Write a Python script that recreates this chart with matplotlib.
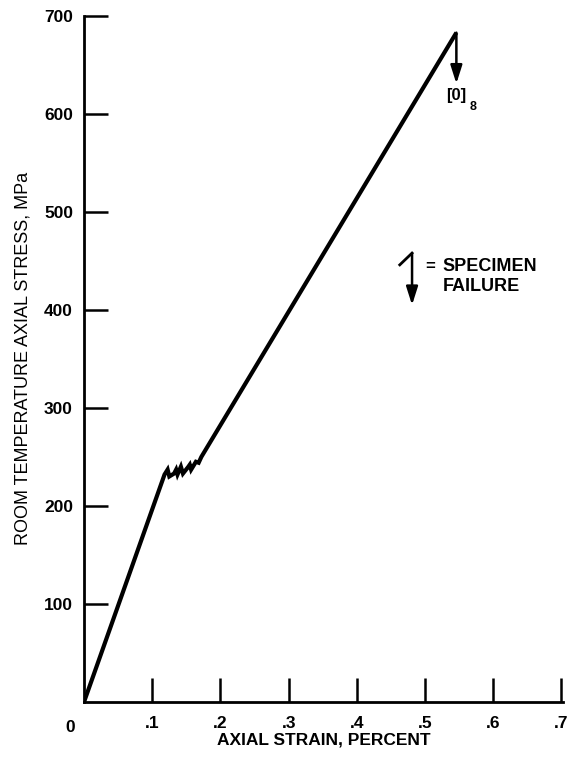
import matplotlib
matplotlib.use("Agg")
import matplotlib.pyplot as plt

plt.rcParams["font.family"] = ["Liberation Sans", "DejaVu Sans"]

# stress-strain curve, [0]8 laminate
strain = [0.0, 0.118, 0.1225, 0.125, 0.132, 0.135, 0.137, 0.142, 0.145,
          0.153, 0.155, 0.157, 0.164, 0.168, 0.172, 0.546]
stress = [0, 232, 237, 230, 233, 237, 232, 240, 233,
          240, 242, 237, 245, 244, 250, 683]

fail_strain = 0.546
fail_stress = 683
layup_label = "[0]"
layup_sub = "8"

x_ticks = [0.1, 0.2, 0.3, 0.4, 0.5, 0.6, 0.7]
x_ticklabels = [".1", ".2", ".3", ".4", ".5", ".6", ".7"]
y_ticks = [100, 200, 300, 400, 500, 600, 700]

fig = plt.figure(figsize=(5.72, 7.62), dpi=100)
ax = fig.add_axes([0.147, 0.079, 0.838, 0.9])

ax.plot(strain, stress, color="black", lw=3.0, solid_joinstyle="miter",
        solid_capstyle="butt")

arrow_kw = dict(arrowstyle="-|>,head_length=1.1,head_width=0.35",
                color="black", lw=1.8, shrinkA=0, shrinkB=0)

# failure arrow
ax.annotate("", xy=(fail_strain, fail_stress - 52), xytext=(fail_strain, fail_stress),
            arrowprops=arrow_kw)
ax.text(fail_strain - 0.0, 619, layup_label, ha="center", va="center",
        fontsize=12, fontweight="bold")
ax.text(fail_strain + 0.024, 607, layup_sub, ha="center", va="center",
        fontsize=9, fontweight="bold")

# legend key: arrow = specimen failure
ax.plot([0.463, 0.481], [446, 458], color="black", lw=2.0)
ax.annotate("", xy=(0.481, 405), xytext=(0.481, 458),
            arrowprops=arrow_kw)
ax.text(0.507, 444, "=", ha="center", va="center",
        fontsize=12, fontweight="bold")
ax.text(0.526, 444, "SPECIMEN", ha="left", va="center",
        fontsize=13, fontweight="bold")
ax.text(0.526, 424, "FAILURE", ha="left", va="center",
        fontsize=13, fontweight="bold")

ax.set_xlim(0, 0.703)
ax.set_ylim(0, 700)
ax.spines["top"].set_visible(False)
ax.spines["right"].set_visible(False)
for s in ("left", "bottom"):
    ax.spines[s].set_linewidth(2.0)

ax.set_xticks(x_ticks)
ax.set_xticklabels(x_ticklabels)
ax.set_yticks(y_ticks)
ax.tick_params(direction="in", length=17, width=1.8, labelsize=12.5)
ax.tick_params(axis="y", pad=8)
ax.tick_params(axis="x", pad=10)
for lab in ax.get_xticklabels() + ax.get_yticklabels():
    lab.set_fontweight("bold")
ax.text(-0.02, -26, "0", ha="center", va="center", fontsize=12.5,
        fontweight="bold")

ax.set_xlabel("AXIAL STRAIN, PERCENT", fontsize=12.5, fontweight="bold", labelpad=1)
ax.set_ylabel("ROOM TEMPERATURE AXIAL STRESS, MPa", fontsize=13, labelpad=9)

fig.savefig("out.png", dpi=100)
